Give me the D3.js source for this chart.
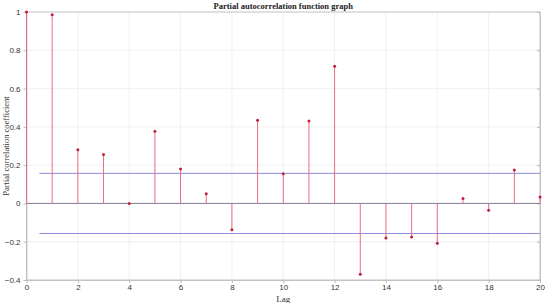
<!DOCTYPE html>
<html>
<head>
<meta charset="utf-8">
<script src="https://cdn.jsdelivr.net/npm/d3@7"></script>
<style>
  body { margin: 0; background: #fff; }
  svg { font-family: "Liberation Serif", "Times New Roman", serif; }
</style>
</head>
<body>
<svg id="chart" width="550" height="303"></svg>
<script>
// PACF values
const lags = d3.range(0, 21);
const pacf = [1.0, 0.985, 0.28, 0.255, 0.0, 0.377, 0.18, 0.05, -0.138, 0.435,
  0.155, 0.43, 0.717, -0.37, -0.18, -0.176, -0.208, 0.026, -0.035, 0.174, 0.033];
const confBound = 0.157;
const xTicks = [0, 2, 4, 6, 8, 10, 12, 14, 16, 18, 20];
const yTicks = [-0.4, -0.2, 0, 0.2, 0.4, 0.6, 0.8, 1];

const margin = { top: 12, right: 10, bottom: 23, left: 26.5 };
const width = 550, height = 303;

const svg = d3.select("#chart");

const x = d3.scaleLinear().domain([0, 20]).range([margin.left, width - margin.right]);
const y = d3.scaleLinear().domain([-0.4, 1]).range([height - margin.bottom, margin.top]);

// Grid
svg.append("g")
  .selectAll("line.vg")
  .data(xTicks)
  .join("line")
  .attr("x1", d => x(d)).attr("x2", d => x(d))
  .attr("y1", y(1)).attr("y2", y(-0.4))
  .attr("stroke", "#ececec").attr("stroke-width", 0.8);

svg.append("g")
  .selectAll("line.hg")
  .data(yTicks)
  .join("line")
  .attr("x1", x(0)).attr("x2", x(20))
  .attr("y1", d => y(d)).attr("y2", d => y(d))
  .attr("stroke", "#ececec").attr("stroke-width", 0.8);

// Box
svg.append("rect")
  .attr("x", x(0)).attr("y", y(1))
  .attr("width", x(20) - x(0)).attr("height", y(-0.4) - y(1))
  .attr("fill", "none").attr("stroke", "#bbbbbb").attr("stroke-width", 0.8);

// Axes
const xAxis = svg.append("g")
  .attr("transform", `translate(0,${y(-0.4)})`)
  .call(d3.axisBottom(x).tickValues(xTicks).tickSize(3).tickPadding(1.5).tickSizeOuter(0).tickFormat(d3.format("d")));
const yAxis = svg.append("g")
  .attr("transform", `translate(${x(0)},0)`)
  .call(d3.axisLeft(y).tickValues(yTicks).tickSize(3).tickSizeOuter(0).tickFormat(d => d === 0 ? "0" : d3.format("")(+d.toFixed(1))));
const yAxisR = svg.append("g")
  .attr("transform", `translate(${x(20)},0)`)
  .call(d3.axisLeft(y).tickValues(yTicks).tickSize(3).tickSizeOuter(0).tickFormat(""));

[xAxis, yAxis, yAxisR].forEach(g => {
  g.select(".domain").attr("stroke", "#bbbbbb").attr("stroke-width", 0.8);
  g.selectAll(".tick line").attr("stroke", "#bbbbbb");
  g.selectAll(".tick text").attr("fill", "#333").attr("font-size", 8);
});

// Zero line
svg.append("line")
  .attr("x1", x(0)).attr("x2", x(20))
  .attr("y1", y(0)).attr("y2", y(0))
  .attr("stroke", "#8a7a9a").attr("stroke-width", 1);

// Confidence bounds
svg.append("g")
  .selectAll("line")
  .data([confBound, -confBound])
  .join("line")
  .attr("x1", x(0.5)).attr("x2", x(20))
  .attr("y1", d => y(d)).attr("y2", d => y(d))
  .attr("stroke", "#8c8cdc").attr("stroke-width", 1);

// Stems
const pts = lags.map((l, i) => ({ lag: l, v: pacf[i] }));
svg.append("g")
  .selectAll("line")
  .data(pts)
  .join("line")
  .attr("x1", d => x(d.lag)).attr("x2", d => x(d.lag))
  .attr("y1", y(0)).attr("y2", d => y(d.v))
  .attr("stroke", "#e8707e").attr("stroke-width", 1);

svg.append("g")
  .selectAll("circle")
  .data(pts)
  .join("circle")
  .attr("cx", d => x(d.lag)).attr("cy", d => y(d.v))
  .attr("r", 1.5)
  .attr("fill", "#c0203c");

// Title and labels
svg.append("text")
  .attr("x", (x(0) + x(20)) / 2).attr("y", 9)
  .attr("text-anchor", "middle")
  .attr("font-size", 8.5).attr("font-weight", "bold").attr("fill", "#222")
  .text("Partial autocorrelation function graph");

svg.append("text")
  .attr("x", (x(0) + x(20)) / 2).attr("y", 301.5)
  .attr("text-anchor", "middle")
  .attr("font-size", 9).attr("fill", "#333")
  .text("Lag");

svg.append("text")
  .attr("transform", `translate(9,${y(0.3)}) rotate(-90)`)
  .attr("text-anchor", "middle")
  .attr("font-size", 8.5).attr("fill", "#333")
  .text("Partial correlation coefficient");
</script>
</body>
</html>
